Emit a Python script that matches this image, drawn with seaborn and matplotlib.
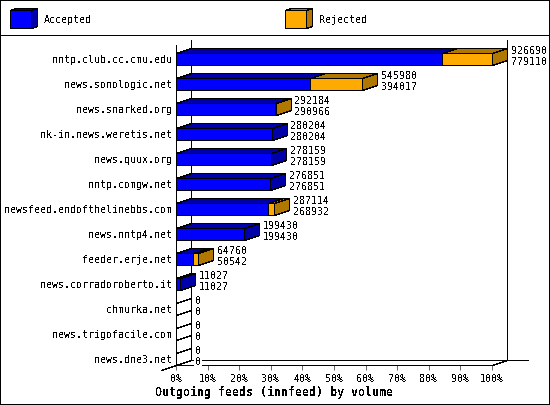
import math
import matplotlib
matplotlib.use("Agg")
import matplotlib.pyplot as plt
from matplotlib.patches import Polygon, Rectangle
from matplotlib.lines import Line2D
from matplotlib.transforms import IdentityTransform
import seaborn as sns
import pandas as pd

servers = ["nntp.club.cc.cmu.edu", "news.sonologic.net", "news.snarked.org", "nk-in.news.weretis.net",
           "news.quux.org", "nntp.comgw.net", "newsfeed.endofthelinebbs.com", "news.nntp4.net",
           "feeder.erje.net", "news.corradoroberto.it", "chmurka.net", "news.trigofacile.com", "news.dne3.net"]
offered = [926690, 545980, 292184, 280204, 278159, 276851, 287114, 199430, 64760, 11027, 0, 0, 0]
accepted = [779110, 394017, 290966, 280204, 278159, 276851, 268932, 199430, 50542, 11027, 0, 0, 0]
tick_pct = [0, 10, 20, 30, 40, 50, 60, 70, 80, 90, 100]
legend_names = ["Accepted", "Rejected"]
title = "Outgoing feeds (innfeed) by volume"

W, H = 550, 405
DX, DY = 15, 5
LW = 0.42
BAR = 0.48
BLUE, BLUE_D = "#0000FF", "#0000AA"
ORANGE, ORANGE_D = "#FFAA00", "#B07800"
FONT = "DejaVu Sans Mono"

sns.set_theme(style="white")
plt.rcParams.update({"font.family": [FONT], "text.antialiased": False, "patch.antialiased": False,
                     "lines.antialiased": False, "axes.linewidth": LW})

fig = plt.figure(figsize=(W / 100, H / 100), dpi=100, facecolor="white")
ax = fig.add_axes([176 / W, 40 / H, 316 / W, 320 / H])
ax.patch.set_visible(False)
df = pd.DataFrame({"server": servers, "offered": offered, "accepted": accepted})
sns.barplot(data=df, x="offered", y="server", order=servers, color=ORANGE, saturation=1, width=BAR,
            edgecolor="black", linewidth=LW, orient="h", ax=ax, zorder=5)
sns.barplot(data=df, x="accepted", y="server", order=servers, color=BLUE, saturation=1, width=BAR,
            edgecolor="black", linewidth=LW, orient="h", ax=ax, zorder=5)
vmax = max(offered)
ax.set_xlim(0, vmax)
ax.set_ylim(12 + BAR / 2, -0.56)
ax.set_xlabel("")
ax.set_ylabel("")
ax.set_xticks([p / 100 * vmax for p in tick_pct], [f"{p}%" for p in tick_pct], fontsize=7.2, color="black")
ax.tick_params(axis="x", length=3.6, width=LW, pad=2.9, color="black", bottom=True)
ax.tick_params(axis="y", length=0, pad=2.6, labelsize=7.2, labelcolor="black")
for s in ("top", "right"):
    ax.spines[s].set_visible(False)
for s in ("left", "bottom"):
    ax.spines[s].set_color("black")
    ax.spines[s].set_zorder(6)

fig.canvas.draw()
tr = ax.transData.transform


def snap(p):
    return (math.floor(p[0] + 0.5) + 0.5, math.floor(p[1] + 0.5) - 0.5)


def up(p):
    return (p[0] + DX, p[1] + DY)


def poly(pts, fc, z):
    ax.add_patch(Polygon([snap(p) for p in pts], closed=True, facecolor=fc, edgecolor="black", linewidth=LW,
                         transform=IdentityTransform(), clip_on=False, zorder=z, snap=False))


def seg(p, q, z=1):
    p, q = snap(p), snap(q)
    ax.add_line(Line2D([p[0], q[0]], [p[1], q[1]], color="black", lw=LW,
                       transform=IdentityTransform(), clip_on=False, zorder=z, snap=False))


# walls of the 3-D frame
fl = tr((0, ax.get_ylim()[0]))
fr = tr((vmax, ax.get_ylim()[0]))
ftop = tr((0, ax.get_ylim()[1]))
seg(up(fl), up(ftop))
seg(up(fr), (fr[0] + DX, ftop[1] + DY))
seg(up(fl), (fr[0] + DX + 21, fr[1] + DY))
seg((fl[0] - DX, fl[1] - DY), up(fl))
seg(fr, up(fr))

for i, (o, a) in enumerate(zip(offered, accepted)):
    b0, b1 = i - BAR / 2, i + BAR / 2
    for b in (b0, b1):
        p = tr((0, b))
        seg(p, up(p), 2)
    p0, pa, po = tr((0, b0)), tr((a, b0)), tr((o, b0))
    qo = tr((o, b1))
    if o > 0:
        poly([p0, po, up(po), up(p0)], ORANGE_D, 3)
        poly([po, qo, up(qo), up(po)], ORANGE_D if o > a else BLUE_D, 3)
    if a > 0:
        poly([p0, pa, up(pa), up(p0)], BLUE_D, 4)
    px, py = tr((o, i))
    for val, off in ((o, 8), (a, -3)):
        ax.text(px + DX + 4, py + off, str(val), transform=IdentityTransform(), fontsize=7.2, color="black",
                ha="left", va="center", zorder=7, clip_on=False,
                bbox=dict(facecolor="white", edgecolor="none", pad=1) if o == 0 else None)

fig.text(274 / W, 1 - 392 / H, title, fontsize=8.4, fontweight="bold", color="black", ha="center", va="center")

# page frame and legend
fig.add_artist(Rectangle((0, 1), 549, 404, transform=IdentityTransform(), fill=False,
                         edgecolor="black", linewidth=LW, clip_on=False))
fig.add_artist(Line2D([0, W], [370, 370], transform=IdentityTransform(), color="black", lw=LW))
for name, x, fc, dc in zip(legend_names, (10, 285), (BLUE, ORANGE), (BLUE_D, ORANGE_D)):
    yb, yt, xr = H - 28, H - 10, x + 21
    for pts, c in (([(x, yt), (xr, yt), (xr + 6, yt + 2), (x + 6, yt + 2)], dc),
                   ([(xr, yb), (xr, yt), (xr + 6, yt + 2), (xr + 6, yb + 2)], dc),
                   ([(x, yb), (xr, yb), (xr, yt), (x, yt)], fc)):
        fig.add_artist(Polygon([snap(p) for p in pts], closed=True, facecolor=c, edgecolor="black", linewidth=LW,
                               transform=IdentityTransform(), snap=False))
    fig.text((x + 34) / W, 1 - 20 / H, name, fontsize=7.2, color="black", ha="left", va="center")

fig.savefig("out.png", dpi=100)
